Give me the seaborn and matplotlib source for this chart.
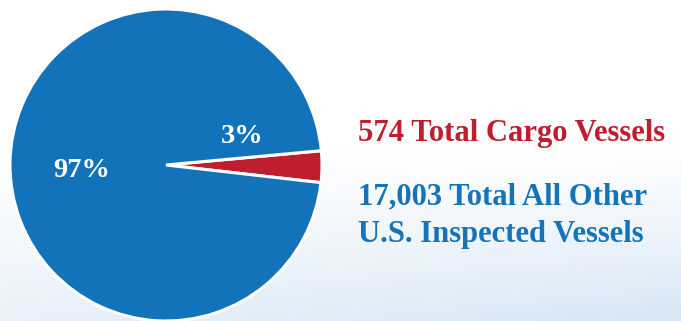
import numpy as np
import matplotlib
matplotlib.use("Agg")
import matplotlib.pyplot as plt
import seaborn as sns

# Vessel counts
categories = ["Total Cargo Vessels", "Total All Other\nU.S. Inspected Vessels"]
counts = [574, 17003]
slice_colors = ["#BE1E2D", "#1273BA"]
text_colors = ["#BE1E2D", "#1573BA"]

sns.set_theme(style="white")
plt.rcParams["font.family"] = ["Liberation Serif", "DejaVu Serif"]

W, H, DPI = 681, 321, 100
fig = plt.figure(figsize=(W / DPI, H / DPI), dpi=DPI)

# Soft sky-coloured backdrop: white at the top, pale blue toward the bottom
bg = fig.add_axes([0, 0, 1, 1], zorder=0)
yy, xx = np.mgrid[0:1:200j, 0:1:400j]
t = np.clip((yy - 0.45) / 0.55, 0, 1) ** 1.2
t = t * (0.55 + 0.45 * xx)
top = np.array([1.0, 1.0, 1.0])
bottom = np.array([0.84, 0.90, 0.96])
img = top[None, None, :] * (1 - t[..., None]) + bottom[None, None, :] * t[..., None]
bg.imshow(img, aspect="auto", extent=[0, 1, 0, 1], origin="upper")
bg.set_axis_off()

# Pie
cx, cy, r = 166, 165, 156
ax = fig.add_axes([(cx - r) / W, (H - cy - r) / H, 2 * r / W, 2 * r / H], zorder=1)
total = sum(counts)
ax.pie(counts, colors=slice_colors, startangle=-6.5, counterclock=True,
       radius=1.0, wedgeprops=dict(edgecolor="white", linewidth=2.2))
ax.set_xlim(-1.0, 1.0)
ax.set_ylim(-1.0, 1.0)
ax.set_aspect("equal")
ax.set_axis_off()

pcts = [round(100 * c / total) for c in counts]
label_pos = [(0.49, 0.143), (-0.543, -0.075)]
for p, (lx, ly) in zip(pcts, label_pos):
    ax.text(lx, ly, f"{p}%", color="white", fontsize=20.5, fontweight="bold",
            ha="center", va="baseline")

# Captions on the right
fs = 22.1
fig.text(358 / W, 1 - 141 / H, f"{counts[0]:,} {categories[0]}", color=text_colors[0],
         fontsize=fs, fontweight="bold", ha="left", va="baseline", zorder=2)
line1, line2 = categories[1].split("\n")
fig.text(358 / W, 1 - 204 / H, f"{counts[1]:,} {line1}", color=text_colors[1],
         fontsize=fs, fontweight="bold", ha="left", va="baseline", zorder=2)
fig.text(358 / W, 1 - 241.7 / H, line2, color=text_colors[1],
         fontsize=fs, fontweight="bold", ha="left", va="baseline", zorder=2)

fig.savefig("out.png", dpi=DPI)
